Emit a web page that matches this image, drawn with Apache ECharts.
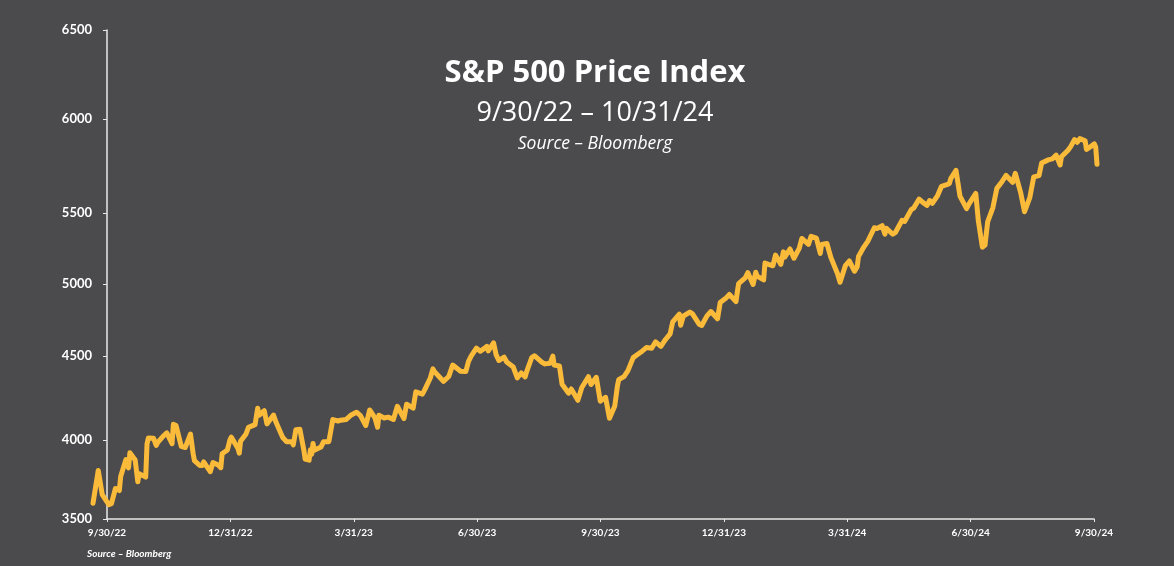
<!DOCTYPE html>
<html>
<head>
<meta charset="utf-8">
<script src="https://cdn.jsdelivr.net/npm/echarts@6/dist/echarts.min.js"></script>
<style>
  html, body { margin: 0; padding: 0; background: #4b4b4d; }
  #main { width: 1174px; height: 566px; }
</style>
</head>
<body>
<div id="main"></div>
<script>
// closing levels (date, index level)
var dates = [
  '2022-09-30','2022-10-04','2022-10-07','2022-10-12','2022-10-14','2022-10-17','2022-10-20','2022-10-21','2022-10-25','2022-10-27',
  '2022-10-28','2022-11-01','2022-11-03','2022-11-04','2022-11-09','2022-11-10','2022-11-11','2022-11-15','2022-11-17','2022-11-18',
  '2022-11-22','2022-11-25','2022-11-29','2022-11-30','2022-12-01','2022-12-02','2022-12-06','2022-12-09','2022-12-13','2022-12-15',
  '2022-12-16','2022-12-20','2022-12-22','2022-12-23','2022-12-28','2022-12-30',
  '2023-01-03','2023-01-05','2023-01-06','2023-01-10','2023-01-12','2023-01-13','2023-01-18','2023-01-19','2023-01-20','2023-01-24',
  '2023-01-26','2023-01-27','2023-01-31','2023-02-02','2023-02-03','2023-02-07','2023-02-09','2023-02-10','2023-02-14','2023-02-16',
  '2023-02-17','2023-02-21','2023-02-24','2023-02-28','2023-03-01','2023-03-03','2023-03-06','2023-03-09','2023-03-10','2023-03-13',
  '2023-03-14','2023-03-15','2023-03-16','2023-03-17','2023-03-22','2023-03-24','2023-03-28','2023-03-31','2023-04-04','2023-04-06',
  '2023-04-10','2023-04-14','2023-04-18','2023-04-21','2023-04-25','2023-04-27','2023-04-28','2023-05-02','2023-05-04','2023-05-05',
  '2023-05-09','2023-05-12','2023-05-16','2023-05-19','2023-05-24','2023-05-26','2023-05-31','2023-06-02','2023-06-07','2023-06-09',
  '2023-06-13','2023-06-15','2023-06-16','2023-06-21','2023-06-23','2023-06-27','2023-06-30','2023-07-06','2023-07-07','2023-07-10',
  '2023-07-12','2023-07-14','2023-07-18','2023-07-21','2023-07-24','2023-07-26','2023-07-27','2023-07-31','2023-08-02','2023-08-04',
  '2023-08-08','2023-08-10','2023-08-11','2023-08-15','2023-08-18','2023-08-21','2023-08-24','2023-08-25','2023-08-29','2023-08-31',
  '2023-09-01','2023-09-06','2023-09-08','2023-09-12','2023-09-14','2023-09-15','2023-09-19','2023-09-21','2023-09-22','2023-09-26',
  '2023-09-28','2023-09-29','2023-10-03','2023-10-06','2023-10-11','2023-10-13','2023-10-17','2023-10-20','2023-10-24','2023-10-27',
  '2023-10-31','2023-11-02','2023-11-03','2023-11-07','2023-11-10','2023-11-14','2023-11-17','2023-11-21','2023-11-24','2023-11-28',
  '2023-12-01','2023-12-05','2023-12-08','2023-12-12','2023-12-14','2023-12-15','2023-12-19','2023-12-20','2023-12-22','2023-12-27',
  '2023-12-29',
  '2024-01-03','2024-01-05','2024-01-09','2024-01-12','2024-01-17','2024-01-19','2024-01-23','2024-01-26','2024-01-31','2024-02-01',
  '2024-02-02','2024-02-07','2024-02-09','2024-02-13','2024-02-15','2024-02-16','2024-02-21','2024-02-22','2024-02-23','2024-02-28',
  '2024-03-01','2024-03-05','2024-03-07','2024-03-08','2024-03-12','2024-03-15','2024-03-19','2024-03-21','2024-03-22','2024-03-26',
  '2024-03-28','2024-04-01','2024-04-04','2024-04-05','2024-04-09','2024-04-12','2024-04-15','2024-04-17','2024-04-19','2024-04-23',
  '2024-04-26','2024-04-30','2024-05-02','2024-05-03','2024-05-07','2024-05-10','2024-05-15','2024-05-17','2024-05-21','2024-05-23',
  '2024-05-24','2024-05-29','2024-05-31','2024-06-05','2024-06-07','2024-06-12','2024-06-14','2024-06-18','2024-06-21','2024-06-24',
  '2024-06-26','2024-06-28','2024-07-02','2024-07-05','2024-07-09','2024-07-11','2024-07-12','2024-07-16','2024-07-19','2024-07-24',
  '2024-07-26','2024-07-31','2024-08-02','2024-08-05','2024-08-07','2024-08-09','2024-08-13','2024-08-16','2024-08-20','2024-08-23',
  '2024-08-28','2024-08-30','2024-09-03','2024-09-06','2024-09-10','2024-09-13','2024-09-17','2024-09-19','2024-09-20','2024-09-24',
  '2024-09-27','2024-09-30','2024-10-03','2024-10-04','2024-10-09','2024-10-11','2024-10-14','2024-10-16','2024-10-18','2024-10-22',
  '2024-10-23','2024-10-25','2024-10-29','2024-10-30','2024-10-31'
];
var levels = [
  3586,3791,3640,3577,3583,3678,3665,3753,3859,3807,
  3901,3856,3720,3771,3749,3956,3993,3992,3947,3965,
  4003,4026,3958,4080,4077,4072,3941,3934,4019,3896,
  3852,3822,3822,3845,3783,3840,
  3825,3808,3895,3919,3983,3999,3929,3899,3973,4017,
  4060,4071,4077,4180,4136,4164,4082,4090,4137,4090,
  4079,3997,3970,3970,3951,4046,4048,3919,3862,3855,
  3920,3892,3960,3917,3937,3971,3971,4109,4100,4105,
  4109,4138,4155,4134,4071,4136,4169,4119,4061,4136,
  4119,4124,4110,4192,4115,4205,4180,4282,4268,4299,
  4369,4426,4410,4366,4348,4378,4450,4411,4399,4410,
  4472,4505,4555,4536,4554,4567,4538,4589,4513,4478,
  4499,4469,4464,4437,4370,4400,4376,4406,4497,4508,
  4516,4465,4457,4461,4505,4450,4444,4330,4320,4274,
  4300,4288,4229,4309,4377,4328,4373,4224,4248,4117,
  4194,4318,4358,4378,4415,4496,4514,4538,4559,4555,
  4595,4567,4604,4644,4720,4719,4768,4698,4755,4781,
  4770,
  4705,4697,4757,4784,4739,4840,4865,4891,4846,4906,
  4959,4995,5027,4953,5030,5006,4982,5087,5089,5070,
  5137,5079,5157,5124,5175,5117,5179,5241,5234,5204,
  5254,5243,5147,5204,5209,5123,5062,5022,4967,5071,
  5100,5036,5064,5128,5187,5223,5308,5303,5321,5268,
  5305,5267,5278,5354,5347,5421,5432,5487,5465,5448,
  5478,5460,5509,5567,5577,5585,5615,5667,5505,5427,
  5459,5522,5347,5186,5199,5344,5434,5554,5597,5635,
  5592,5648,5529,5408,5496,5626,5634,5713,5703,5732,
  5738,5762,5700,5751,5792,5815,5859,5842,5865,5851,
  5797,5808,5832,5813,5705
];

// axis labels as printed on the picture
var xTickLabels = ['9/30/22', '12/31/22', '3/31/23', '6/30/23', '9/30/23', '12/31/23', '3/31/24', '6/30/24', '9/30/24'];
var yTickLabels = ['3500', '4000', '4500', '5000', '5500', '6000', '6500'];
// the printed y labels are not evenly spaced; these are the levels they sit at
var yTickAt = [3500, 3985, 4500, 4942, 5377, 5954, 6500];

var seriesData = [];
for (var i = 0; i < dates.length; i++) {
  seriesData.push([dates[i], levels[i]]);
}

var myChart = echarts.init(document.getElementById('main'));

var white = '#ffffff';
var option = {
  backgroundColor: '#4b4b4d',
  animation: false,
  grid: [
    // frame with printed axes
    { left: 107, right: 80, top: 30, bottom: 47 },
    // plotting area of the price line
    { left: 93, right: 77, top: 37, bottom: 49 }
  ],
  xAxis: [
    {
      gridIndex: 0,
      type: 'category',
      data: xTickLabels,
      boundaryGap: false,
      axisLine: { lineStyle: { color: '#e8e8e8', width: 1.5 } },
      axisTick: { show: true, length: 3, lineStyle: { color: '#e8e8e8' } },
      axisLabel: {
        color: white,
        fontFamily: 'Lato',
        fontWeight: 'bold',
        fontSize: 10,
        margin: 9,
        interval: 0
      },
      splitLine: { show: false }
    },
    {
      gridIndex: 1,
      type: 'time',
      min: '2022-09-30',
      max: '2024-10-31',
      show: false
    }
  ],
  yAxis: [
    {
      gridIndex: 0,
      type: 'value',
      min: 3500,
      max: 6500,
      axisLine: { show: true, lineStyle: { color: '#e8e8e8', width: 1.5 } },
      axisTick: { show: true, length: 4, customValues: yTickAt, lineStyle: { color: '#e8e8e8' } },
      axisLabel: {
        customValues: yTickAt,
        color: white,
        fontFamily: 'Lato',
        fontWeight: 'bold',
        fontSize: 13,
        margin: 15,
        formatter: function (v) {
          var k = yTickAt.indexOf(v);
          return k >= 0 ? yTickLabels[k] : '';
        }
      },
      splitLine: { show: false }
    },
    {
      gridIndex: 1,
      type: 'value',
      min: 3500,
      max: 6500,
      show: false,
      splitLine: { show: false }
    }
  ],
  graphic: [
    {
      type: 'text', x: 595, y: 73,
      style: {
        text: 'S&P 500 Price Index', fill: white,
        font: 'bold 31px "Open Sans"', textAlign: 'center', textVerticalAlign: 'middle'
      }
    },
    {
      type: 'text', x: 595, y: 113,
      style: {
        text: '9/30/22 \u2013 10/31/24', fill: white,
        font: '27px "Open Sans"', textAlign: 'center', textVerticalAlign: 'middle'
      }
    },
    {
      type: 'text', x: 595, y: 144,
      style: {
        text: 'Source \u2013 Bloomberg', fill: white,
        font: 'italic 17.5px "Open Sans"', textAlign: 'center', textVerticalAlign: 'middle'
      }
    },
    {
      type: 'text', x: 87, y: 554,
      style: {
        text: 'Source \u2013 Bloomberg', fill: white,
        font: 'italic bold 10px Lato', textAlign: 'left', textVerticalAlign: 'middle'
      }
    }
  ],
  series: [
    {
      name: 'S&P 500',
      type: 'line',
      xAxisIndex: 1,
      yAxisIndex: 1,
      data: seriesData,
      showSymbol: false,
      z: 5,
      lineStyle: { color: '#fbbb3a', width: 5, join: 'round', cap: 'round' }
    }
  ]
};

myChart.setOption(option);
</script>
</body>
</html>
